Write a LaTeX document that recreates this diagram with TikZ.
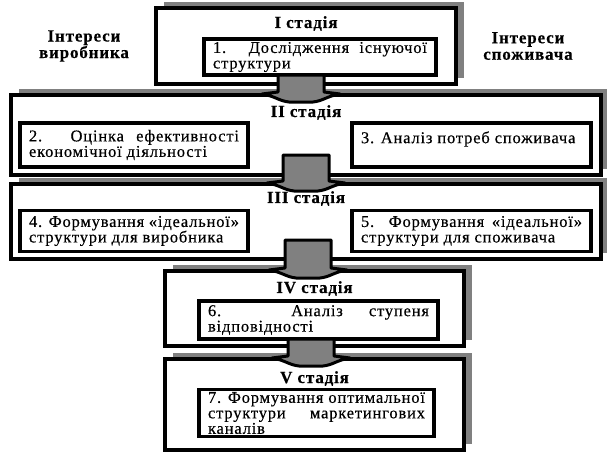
\documentclass[tikz,border=0pt]{standalone}
\usepackage{fontspec}
\setmainfont{Liberation Serif}[LetterSpace=5,FakeBold=0.4]
\usetikzlibrary{positioning,shadows,calc}
\definecolor{shgray}{HTML}{808080}
\hyphenpenalty=10000
\exhyphenpenalty=10000

% block arrow from a start point down into the next stage
\newcommand{\stagearrow}[2]{%
  \draw[arrowbody] let \p1=(#1), \p2=(#2.north) in
    (\x1-23pt,\y1) -- (\x1-23pt,\y2+1pt) -- (\x1-39pt,\y2-1pt)
    .. controls (\x1-26pt,\y2-3pt) and (\x1-22pt,\y2-8pt) .. (\x1-12pt,\y2-9pt)
    -- (\x1+12pt,\y2-9pt)
    .. controls (\x1+22pt,\y2-8pt) and (\x1+26pt,\y2-3pt) .. (\x1+39pt,\y2-1pt)
    -- (\x1+23pt,\y2+1pt) -- (\x1+23pt,\y1) -- cycle;}

\begin{document}
\begin{tikzpicture}[x=1pt,y=-1pt,font=\fontsize{16.5}{15.5}\selectfont]

	\tikzstyle{stage}=[draw=black,line width=4pt,fill=white,inner sep=0pt,
		drop shadow={shadow xshift=8pt,shadow yshift=6pt,fill=shgray,opacity=1}]
	\tikzstyle{item}=[draw=black,line width=3.5pt,fill=white,inner xsep=9pt,inner ysep=2pt,align=justify]
	\tikzstyle{title}=[inner sep=0pt,font=\fontsize{17}{16.5}\selectfont\bfseries]
	\tikzstyle{arrowbody}=[draw=black,line width=3pt,fill=shgray,line join=round]

	\useasboundingbox (0,0) rectangle (607,460);

	\node[title,align=center] (pv) at (84,46) {Інтереси\\виробника};
	\node[title,align=center] (pc) at (528,46) {Інтереси\\споживача};

	\node[stage,minimum width=300pt,minimum height=76pt] (s1) at (306,46) {};
	\node[title,below=10pt of s1.north] (t1) {I стадія};
	\node[item,text width=214pt,minimum height=36pt] (b1) at (320,57) {1. Дослідження існуючої\linebreak структури};

	\node[stage,minimum width=590pt,minimum height=79.5pt] (s2) at (306,134.75) {};
	\node[title,below=12pt of s2.north] (t2) {II стадія};
	\node[item,text width=210pt,minimum height=44pt] (b2) at (134,145) {2. Оцінка ефективності\linebreak економічної діяльності};
	\node[item,text width=221pt,minimum height=44pt] (b3) at (471.5,145) {3. Аналіз потреб споживача\\\mbox{}};

	\node[stage,minimum width=590pt,minimum height=75pt] (s3) at (306,221.5) {};
	\node[title,below=9pt of s3.north] (t3) {III стадія};
	\node[item,text width=210pt,minimum height=41pt] (b4) at (134,231) {4. Формування «ідеальної»\linebreak структури для виробника};
	\node[item,text width=221pt,minimum height=41pt] (b5) at (471.5,231) {5. Формування «ідеальної»\linebreak структури для споживача};

	\node[stage,minimum width=299pt,minimum height=75pt] (s4) at (314.5,308.5) {};
	\node[title,below=12pt of s4.north] (t4) {IV стадія};
	\node[item,text width=221pt,minimum height=38pt] (b6) at (318.5,320) {6. Аналіз ступеня\linebreak відповідності};

	\node[stage,minimum width=299pt,minimum height=91pt] (s5) at (314.5,404.5) {};
	\node[title,below=14pt of s5.north] (t5) {V стадія};
	\node[item,text width=217pt,minimum height=47pt] (b7) at (316.5,413) {7. Формування оптимальної\linebreak структури маркетингових\linebreak каналів};

	\coordinate (a1) at (301,75);
	\coordinate (a2) at (306,155);
	\coordinate (a3) at (308,240);
	\coordinate (a4) at (311,339);
	\stagearrow{a1}{s2}
	\stagearrow{a2}{s3}
	\stagearrow{a3}{s4}
	\stagearrow{a4}{s5}
\end{tikzpicture}
\end{document}
